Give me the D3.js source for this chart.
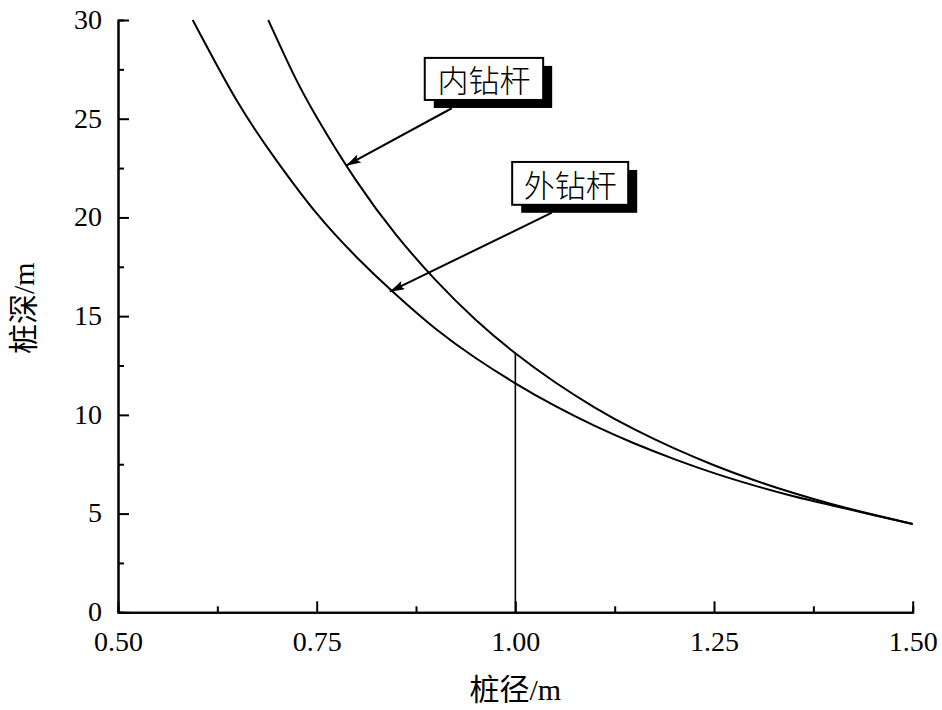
<!DOCTYPE html>
<html>
<head>
<meta charset="utf-8">
<script src="https://cdn.jsdelivr.net/npm/d3@7"></script>
<style>
  html, body { margin: 0; padding: 0; background: #fff; }
  svg { display: block; }
  .tick text { font-family: "Liberation Serif", "Times New Roman", serif; font-size: 28px; fill: #000; }
</style>
</head>
<body>
<svg id="chart" width="942" height="710"></svg>
<script>
// ---- data ----
const outerDiameter = [0.594, 0.65, 0.70, 0.75, 0.80, 0.85, 0.90, 0.95, 1.00, 1.05, 1.10, 1.15, 1.20, 1.25, 1.30, 1.35, 1.40, 1.45, 1.50];
const outerDepth    = [30.0, 25.88, 22.85, 20.2, 18.0, 16.08, 14.35, 12.88, 11.6, 10.45, 9.44, 8.55, 7.76, 7.05, 6.43, 5.88, 5.40, 4.93, 4.47];
const innerDiameter = [0.689, 0.72, 0.75, 0.80, 0.85, 0.90, 0.95, 1.00, 1.05, 1.10, 1.15, 1.20, 1.25, 1.30, 1.35, 1.40, 1.45, 1.50];
const innerDepth    = [30.0, 27.32, 25.08, 21.85, 19.12, 16.81, 14.82, 13.12, 11.65, 10.37, 9.26, 8.30, 7.45, 6.70, 6.04, 5.46, 4.95, 4.47];
const xMajorTicks = [0.50, 0.75, 1.00, 1.25, 1.50];
const xMinorTicks = [0.625, 0.875, 1.125, 1.375];
const yMajorTicks = [0, 5, 10, 15, 20, 25, 30];
const yMinorTicks = [2.5, 7.5, 12.5, 17.5, 22.5, 27.5];
const refDiameter = 1.00;           // vertical reference line
const labels = ["内钻杆", "外钻杆"];
// annotation boxes (data units): [x0, yTop, x1, yBottom], arrow from -> tip
const labelBoxes  = [[0.886, 28.08, 1.035, 25.95], [0.996, 22.81, 1.142, 20.64]];
const arrowFrom   = [[0.920, 25.53], [1.046, 20.24]];
const arrowTip    = [[0.787, 22.62], [0.842, 16.24]];
const xTitle = "桩径/m";
const yTitle = "桩深/m";

// ---- layout ----
const svg = d3.select("#chart");
const x = d3.scaleLinear().domain([0.5, 1.5]).range([118, 912.7]);
const y = d3.scaleLinear().domain([0, 30]).range([612.3, 20]);

// defs: arrow marker
svg.append("defs").append("marker")
  .attr("id", "arrow").attr("viewBox", "0 0 15 9")
  .attr("refX", 15).attr("refY", 4.5)
  .attr("markerWidth", 15).attr("markerHeight", 9)
  .attr("markerUnits", "userSpaceOnUse")
  .attr("orient", "auto")
  .append("path").attr("d", "M0,0 L15,4.5 L0,9 L3,4.5 Z").attr("fill", "#000");

// axes
function styleAxis(g) {
  g.selectAll("path.domain").attr("stroke", "#000").attr("stroke-width", 2);
  g.selectAll(".tick line").attr("stroke", "#000").attr("stroke-width", 2);
}
const xAxisMinor = svg.append("g").attr("transform", `translate(0,${y(0)})`)
  .call(d3.axisBottom(x).tickValues(xMinorTicks).tickSize(-6).tickFormat(""));
styleAxis(xAxisMinor);
const xAxis = svg.append("g").attr("transform", `translate(0,${y(0)})`)
  .call(d3.axisBottom(x).tickValues(xMajorTicks).tickSizeInner(-11).tickSizeOuter(0).tickPadding(19).tickFormat(d3.format(".2f")));
styleAxis(xAxis);
const yAxisMinor = svg.append("g").attr("transform", `translate(${x(0.5)},0)`)
  .call(d3.axisLeft(y).tickValues(yMinorTicks).tickSize(-6).tickFormat(""));
styleAxis(yAxisMinor);
const yAxis = svg.append("g").attr("transform", `translate(${x(0.5)},0)`)
  .call(d3.axisLeft(y).tickValues(yMajorTicks).tickSizeInner(-11).tickSizeOuter(0).tickPadding(16).tickFormat(d3.format("d")));
styleAxis(yAxis);
yAxis.selectAll(".tick text").attr("dy", "0.30em");

// curves
const line = d3.line().x(d => x(d[0])).y(d => y(d[1])).curve(d3.curveNatural);
const outer = outerDiameter.map((d, i) => [d, outerDepth[i]]);
const inner = innerDiameter.map((d, i) => [d, innerDepth[i]]);
[outer, inner].forEach(s => {
  svg.append("path").datum(s).attr("d", line)
    .attr("fill", "none").attr("stroke", "#000").attr("stroke-width", 2);
});

// vertical reference line at d = 1.00 up to inner curve
const innerAtRef = innerDepth[innerDiameter.indexOf(refDiameter)];
svg.append("line")
  .attr("x1", x(refDiameter)).attr("x2", x(refDiameter))
  .attr("y1", y(0)).attr("y2", y(innerAtRef))
  .attr("stroke", "#000").attr("stroke-width", 1.6);

// annotations
labels.forEach((t, i) => {
  const b = labelBoxes[i];
  const bx = x(b[0]), by = y(b[1]), bw = x(b[2]) - x(b[0]), bh = y(b[3]) - y(b[1]);
  // arrow
  svg.append("line")
    .attr("x1", x(arrowFrom[i][0])).attr("y1", y(arrowFrom[i][1]))
    .attr("x2", x(arrowTip[i][0])).attr("y2", y(arrowTip[i][1]))
    .attr("stroke", "#000").attr("stroke-width", 2)
    .attr("marker-end", "url(#arrow)");
  // shadow
  svg.append("rect").attr("x", bx + 9).attr("y", by + 8).attr("width", bw).attr("height", bh).attr("fill", "#000");
  // box
  svg.append("rect").attr("x", bx).attr("y", by).attr("width", bw).attr("height", bh)
    .attr("fill", "#fff").attr("stroke", "#000").attr("stroke-width", 2);
  svg.append("text").attr("x", bx + bw / 2).attr("y", by + bh / 2)
    .attr("text-anchor", "middle").attr("dominant-baseline", "central")
    .attr("font-family", "'Noto Sans CJK SC', sans-serif").attr("font-size", 31)
    .attr("font-weight", 300)
    .attr("fill", "#000").text(t);
});

// axis titles
svg.append("text").attr("x", x(1.0)).attr("y", 700)
  .attr("text-anchor", "middle")
  .attr("font-family", "'Liberation Serif', 'Noto Sans CJK SC', serif").attr("font-size", 30)
  .attr("fill", "#000").text(xTitle);
svg.append("text").attr("transform", `translate(34,${y(15.4)}) rotate(-90)`)
  .attr("text-anchor", "middle")
  .attr("font-family", "'Liberation Serif', 'Noto Sans CJK SC', serif").attr("font-size", 30)
  .attr("fill", "#000").text(yTitle);
</script>
</body>
</html>
